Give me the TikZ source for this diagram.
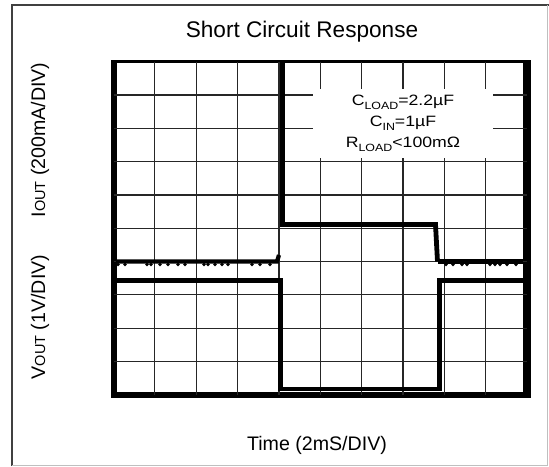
\documentclass[tikz,border=0pt]{standalone}
\usepackage{fontspec}
\setsansfont{Liberation Sans}
\newfontfamily\widesans[FakeStretch=1.18]{Liberation Sans}
\newcommand{\lowsub}[1]{\raisebox{-0.5ex}{\fontsize{10.5}{10.5}\selectfont #1}}
\newcommand{\smallcap}[1]{{\fontsize{14.5}{14.5}\selectfont #1}}

\begin{document}
\begin{tikzpicture}[x=1pt,y=-1pt,
  gridline/.style={line width=1.2pt,black!85},
  trace/.style={line width=4.8pt,black,line join=miter},
  axislabel/.style={font=\sffamily\fontsize{19.6}{19.6}\selectfont,inner sep=0pt}]
\useasboundingbox (0,0) rectangle (549,466);

% Outer frame of the figure
\draw[black!75,line width=1.5pt] (12,466) -- (12,5) -- (549,5);
\draw[black!25,line width=1pt] (12,465) -- (547.5,465) -- (547.5,5);

% Title
\node[font=\sffamily\fontsize{22.6}{22.6}\selectfont] (title) at (302,32) {Short Circuit Response};

% Scope screen: thick border, then 10 x 10 divisions
\fill[black] (110.7,60) rectangle (530.7,397.7);
\fill[white] (116.7,63.3) rectangle (523.3,391.7);
\foreach \i in {1,...,9}
  \draw[gridline] ({113.5+\i*41.35},61.7) -- ({113.5+\i*41.35},394.7);
\foreach \j in {1,...,9}
  \draw[gridline] (113.5,{61.7+\j*33.3}) -- (527,{61.7+\j*33.3});

% Test conditions
\node[fill=white,minimum width=180pt,minimum height=69pt,inner sep=0pt,align=center,
  font=\widesans\fontsize{15}{21}\selectfont] (notes) at (403,123)
  {C\lowsub{LOAD}=2.2µF\\C\lowsub{IN}=1µF\\R\lowsub{LOAD}<100mΩ};

% IOUT trace
\draw[trace,line width=4.2pt] (116,261.5) -- (277,261.5) -- (279,255);
\foreach \x in {118,125,147,151,160,168,178,185,204,208,215,222,228,252,260,270}
  \fill (\x,264.5) circle (1.9pt);
\draw[trace] (282.5,60) -- (282.5,224.5) -- (435.5,224.5) -- (437.5,261.5);
\draw[trace,line width=4.2pt] (437.5,261.5) -- (523,261.5);
\foreach \x in {446,453,462,467,490,495,500,507,516}
  \fill (\x,264.5) circle (1.9pt);

% VOUT trace
\draw[trace] (116,280.5) -- (280.5,280.5) -- (280.5,389) -- (439.5,389)
  -- (439.5,280.5) -- (523,280.5);

% Axis labels
\node[axislabel,rotate=90] (ioutlab) at (40,140) {I\smallcap{OUT} (200mA/DIV)};
\node[axislabel,rotate=90] (voutlab) at (40,317) {V\smallcap{OUT} (1V/DIV)};
\node[axislabel] (timelab) at (317,445) {Time (2mS/DIV)};
\end{tikzpicture}
\end{document}
